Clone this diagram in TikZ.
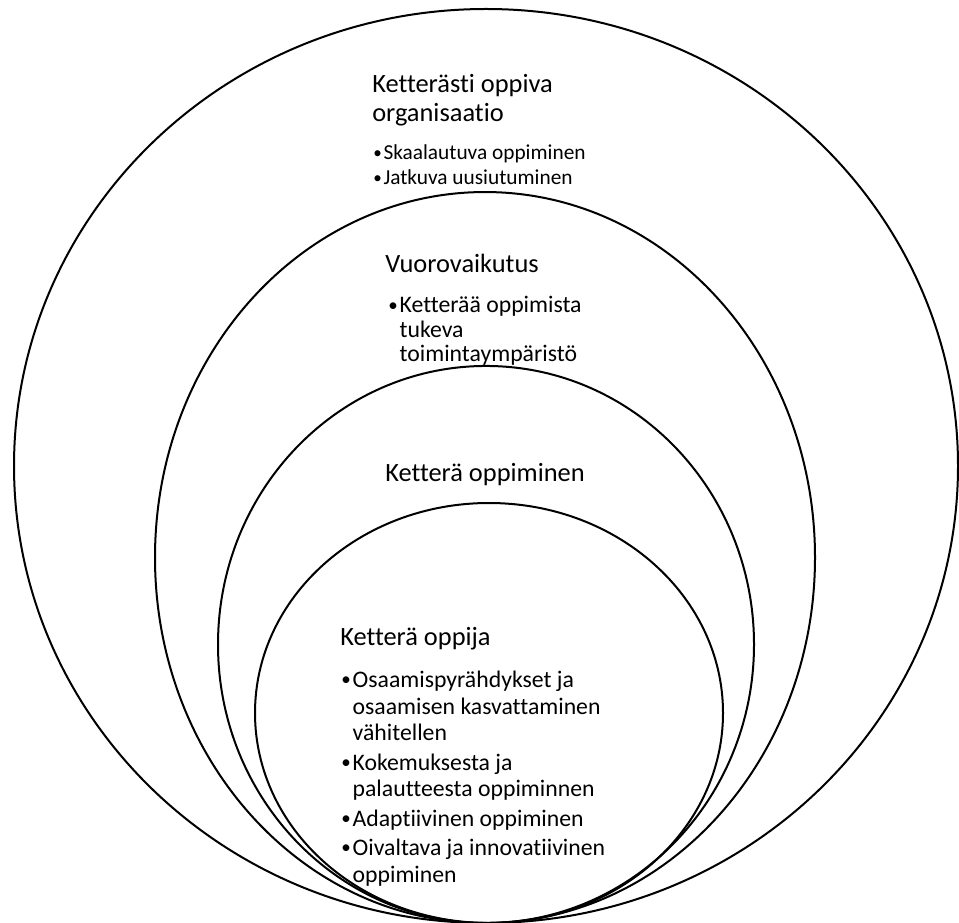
\documentclass[tikz,border=0pt]{standalone}
\usepackage{fontspec}
\setmainfont{Carlito}[Ligatures=NoCommon]
\newcommand{\bitem}{\makebox[0.48em][l]{\raisebox{0.07em}{\scalebox{0.8}{\textbullet}}}}
\newcommand{\bcont}{\hspace*{0.48em}}
\tikzset{
	ring/.style={line width=1.5pt},
	otsikko/.style={anchor=base west, inner sep=0pt, align=left, font=\fontsize{19.8}{22.3}\selectfont},
	lista/.style={anchor=base west, inner sep=0pt, align=left},
}
\begin{document}
\begin{tikzpicture}[x=0.75pt,y=-0.75pt]
	\useasboundingbox (0,0) rectangle (959,923);
	% ellipses, outer to inner, all touching at the bottom
	\draw[ring] (486,466)   ellipse [x radius=354pt,   y radius=342.75pt];
	\draw[ring] (485,557.5) ellipse [x radius=247.5pt, y radius=274.1pt];
	\draw[ring] (486,644.5) ellipse [x radius=201pt,   y radius=208.9pt];
	\draw[ring] (489,713)   ellipse [x radius=175.5pt, y radius=157.5pt];
	% organisaatio (nodes sit on the baseline of their last line)
	\node (org) at (372,122)	[otsikko]	{Ketterästi oppiva\\organisaatio};
	\node (orglista) at (373,185)	[lista, font=\fontsize{16}{18.75}\selectfont]
		{\bitem Skaalautuva oppiminen\\ \bitem Jatkuva uusiutuminen};
	% vuorovaikutus
	\node (vuo) at (385,273)	[otsikko]	{Vuorovaikutus};
	\node (vuolista) at (388,361)	[lista, font=\fontsize{17.8}{18}\selectfont]
		{\bitem Ketterää oppimista\\ \bcont tukeva\\ \bcont toimintaympäristö};
	% oppiminen
	\node (oppiminen) at (385,481)	[otsikko]	{Ketterä oppiminen};
	% oppija
	\node (oppija) at (340,645)	[otsikko]	{Ketterä oppija};
	\node (oppijalista) at (341,882)	[lista, font=\fontsize{17.8}{19.9}\selectfont]
		{\bitem Osaamispyrähdykset ja\\ \bcont osaamisen kasvattaminen\\ \bcont vähitellen\\[2.2pt]
		 \bitem Kokemuksesta ja\\ \bcont palautteesta oppiminnen\\[2.2pt]
		 \bitem Adaptiivinen oppiminen\\[2.2pt]
		 \bitem Oivaltava ja innovatiivinen\\ \bcont oppiminen};
\end{tikzpicture}
\end{document}
